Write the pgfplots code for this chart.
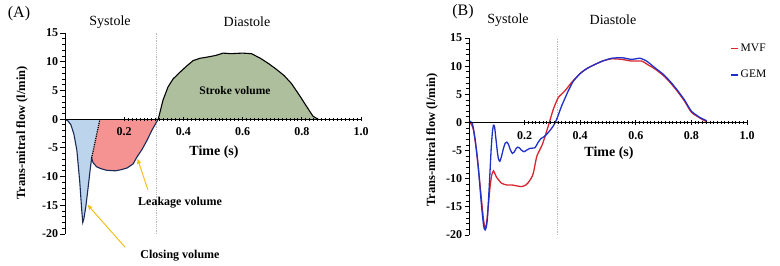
\documentclass[border=0pt]{standalone}
\usepackage{fontspec}
\setmainfont{Liberation Serif}
\usepackage{pgfplots}
\pgfplotsset{compat=1.18}
\usetikzlibrary{arrows.meta}
\definecolor{bfill}{HTML}{BCD4EC}
\definecolor{rfill}{HTML}{F59393}
\definecolor{gfill}{HTML}{ADBF9C}
\definecolor{navy}{HTML}{1A2A5A}
\definecolor{mvf}{HTML}{D7262E}
\definecolor{gem}{HTML}{1F2FC8}
\definecolor{arrowy}{HTML}{F0C020}
\pgfplotsset{
  panel/.style={
    scale only axis,
    xmin=0, xmax=1.0, ymin=-20, ymax=15,
    axis x line=middle, axis y line=left,
    axis line style={-, line width=1pt, black},
    axis on top,
    clip=false,
    xtick={0.2,0.4,0.6,0.8,1.0},
    minor x tick num=14,
    ytick={-20,-15,-10,-5,0,5,10,15},
    minor y tick num=4,
    tick style={black, line width=0.8pt},
    major tick length=4.5bp, minor tick length=3bp,
    y tick style={/pgfplots/tick align=outside},
    /pgf/number format/assume math mode=true,
    tick label style={font=\bfseries\fontsize{12bp}{14bp}\selectfont},
    yticklabel style={xshift=-1bp},
    xticklabel style={yshift=-3bp, /pgf/number format/.cd, fixed, fixed zerofill, precision=1},
  }
}
\begin{document}
\begin{tikzpicture}
\path[use as bounding box] (0,0) rectangle (780bp,266bp);
% ---------------- Panel A ----------------
\begin{axis}[panel, at={(65bp,32bp)}, anchor=south west, width=296bp, height=201bp]
\addplot[fill=bfill, draw=none] coordinates {
(0,0) (0.01,-0.3) (0.02,-1.0) (0.03,-2.6) (0.04,-5.4) (0.05,-11.0) (0.056,-15.5) (0.06,-18) (0.064,-17.3) (0.071,-15.0) (0.079,-11.5) (0.085,-8.8) (0.09,-6.8) (0.118,0)} -- cycle;
\addplot[fill=rfill, draw=none] coordinates {
(0.118,0) (0.09,-6.8) (0.095,-7.6) (0.107,-8.3) (0.12,-8.6) (0.14,-8.9) (0.17,-9.0) (0.19,-8.8) (0.21,-8.5) (0.23,-7.8) (0.243,-6.6) (0.26,-5.3) (0.277,-3.7) (0.295,-1.8) (0.315,0)} -- cycle;
\addplot[fill=gfill, draw=none] coordinates {
(0.315,0) (0.331,3.3) (0.348,5.6) (0.365,7.0) (0.389,8.2) (0.41,9.2) (0.433,10.2) (0.456,10.6) (0.48,10.8) (0.51,11.1) (0.534,11.5) (0.56,11.4) (0.6,11.5) (0.63,11.4) (0.66,10.6) (0.69,9.6) (0.716,8.6) (0.74,7.6) (0.765,6.2) (0.794,4.0) (0.815,2.3) (0.838,0.5) (0.855,0)} -- cycle;
\addplot[gray!55, densely dotted, line width=0.8pt] coordinates {(0.31,-20) (0.31,15)};
\addplot[navy, line width=1.1pt] coordinates {
(0,0) (0.01,-0.3) (0.02,-1.0) (0.03,-2.6) (0.04,-5.4) (0.05,-11.0) (0.056,-15.5) (0.06,-18) (0.064,-17.3) (0.071,-15.0) (0.079,-11.5) (0.085,-8.8) (0.09,-6.8) (0.095,-7.6) (0.107,-8.3) (0.12,-8.6) (0.14,-8.9) (0.17,-9.0) (0.19,-8.8) (0.21,-8.5) (0.23,-7.8) (0.243,-6.6) (0.26,-5.3) (0.277,-3.7) (0.295,-1.8) (0.315,0)};
\addplot[black, line width=1.1pt] coordinates {
(0.315,0) (0.331,3.3) (0.348,5.6) (0.365,7.0) (0.389,8.2) (0.41,9.2) (0.433,10.2) (0.456,10.6) (0.48,10.8) (0.51,11.1) (0.534,11.5) (0.56,11.4) (0.6,11.5) (0.63,11.4) (0.66,10.6) (0.69,9.6) (0.716,8.6) (0.74,7.6) (0.765,6.2) (0.794,4.0) (0.815,2.3) (0.838,0.5) (0.855,0)};
\addplot[black, densely dotted, line width=1.2pt] coordinates {(0.09,-6.8) (0.118,0)};
\draw[arrowy, line width=1pt, -{Triangle[length=5bp,width=4bp]}] (axis cs:0.28,-12.3) -- (axis cs:0.245,-6.9);
\draw[arrowy, line width=1pt, -{Triangle[length=5bp,width=4bp]}] (axis cs:0.203,-22.3) -- (axis cs:0.076,-14.9);
\end{axis}
% ---------------- Panel B ----------------
\begin{axis}[panel, at={(469bp,31bp)}, anchor=south west, width=278bp, height=197bp,
  legend style={draw=none, fill=none, at={(0.935,0.985)}, anchor=north west,
    font=\fontsize{11.5bp}{13bp}\selectfont, row sep=13bp, inner sep=1bp,
    nodes={inner xsep=2bp}},
  legend cell align=left,
  legend image code/.code={\draw[#1, line width=1.6pt] (0bp,0bp) -- (7bp,0bp);}]
\addplot[gray!55, densely dotted, line width=0.8pt, forget plot] coordinates {(0.317,-20) (0.317,15)};
\addplot[mvf, line width=1.3pt, smooth, tension=0.35] coordinates {
(0,0) (0.008,-0.3) (0.016,-1.3) (0.028,-5.4) (0.04,-11.3) (0.052,-17.2) (0.058,-18.8) (0.062,-18.3) (0.066,-16.6) (0.071,-14) (0.076,-11.3) (0.082,-9.3) (0.088,-8.6) (0.094,-9.2) (0.1,-9.8) (0.117,-10.8) (0.135,-11.1) (0.153,-11.1) (0.175,-11.3) (0.19,-11.4) (0.205,-11.1) (0.213,-10.7) (0.225,-9.8) (0.232,-8.9) (0.244,-6.0) (0.264,-3.9) (0.285,-0.65) (0.303,2.3) (0.321,4.4) (0.345,5.6) (0.369,7.1) (0.4,8.7) (0.425,9.6) (0.453,10.3) (0.48,10.9) (0.513,11.3) (0.55,11.2) (0.585,10.9) (0.621,10.9) (0.645,10.2) (0.669,9.5) (0.7,8.3) (0.725,7.0) (0.75,5.5) (0.775,3.8) (0.8,1.8) (0.83,0.8) (0.855,0.1)};
\addlegendentry{MVF}
\addplot[gem, line width=1.3pt, smooth, tension=0.35] coordinates {
(0,0.3) (0.012,-0.2) (0.022,-3) (0.034,-8.3) (0.045,-14.8) (0.053,-18.5) (0.058,-19.1) (0.062,-18.6) (0.066,-17.2) (0.071,-13) (0.076,-8.3) (0.08,-4.5) (0.084,-1.8) (0.088,-0.5) (0.092,-0.8) (0.097,-3) (0.102,-5.2) (0.106,-6.5) (0.111,-6.9) (0.116,-6.2) (0.124,-4.6) (0.13,-3.7) (0.136,-3.5) (0.142,-3.9) (0.149,-4.9) (0.156,-5.5) (0.162,-5.3) (0.17,-4.6) (0.175,-4.4) (0.181,-4.5) (0.188,-4.9) (0.198,-5.2) (0.208,-4.9) (0.22,-4.6) (0.237,-4.5) (0.248,-3.6) (0.258,-2.9) (0.271,-2.5) (0.285,-1.8) (0.303,-0.65) (0.315,0.5) (0.333,2.9) (0.357,5.6) (0.375,7.3) (0.4,8.7) (0.425,9.6) (0.453,10.3) (0.48,10.9) (0.513,11.4) (0.55,11.5) (0.585,11.2) (0.615,11.4) (0.639,10.9) (0.669,9.7) (0.7,8.5) (0.725,7.2) (0.75,5.7) (0.775,4.0) (0.8,2.0) (0.83,0.9) (0.855,0.3)};
\addlegendentry{GEM}
\end{axis}
% ---------------- Texts ----------------
\node[font=\fontsize{16bp}{18bp}\selectfont] at (19bp,252bp) {(A)};
\node[font=\fontsize{14bp}{16bp}\selectfont] at (110bp,244bp) {Systole};
\node[font=\fontsize{14bp}{16bp}\selectfont] at (247bp,244bp) {Diastole};
\node[font=\fontsize{16bp}{18bp}\selectfont] at (463bp,254bp) {(B)};
\node[font=\fontsize{14bp}{16bp}\selectfont] at (508bp,246bp) {Systole};
\node[font=\fontsize{14bp}{16bp}\selectfont] at (613bp,246bp) {Diastole};
\node[font=\bfseries\fontsize{14bp}{16bp}\selectfont] at (214bp,114bp) {Time (s)};
\node[font=\bfseries\fontsize{14bp}{16bp}\selectfont] at (609bp,113bp) {Time (s)};
\node[font=\bfseries\fontsize{12.5bp}{14bp}\selectfont, rotate=90] at (22bp,133bp) {Trans-mitral flow (l/min)};
\node[font=\bfseries\fontsize{12.5bp}{14bp}\selectfont, rotate=90] at (432bp,126bp) {Trans-mitral flow (l/min)};
\node[font=\bfseries\fontsize{11.5bp}{13bp}\selectfont] at (235bp,175bp) {Stroke volume};
\node[font=\bfseries\fontsize{12bp}{14bp}\selectfont] at (180bp,63bp) {Leakage volume};
\node[font=\bfseries\fontsize{12bp}{14bp}\selectfont] at (180bp,10bp) {Closing volume};
\end{tikzpicture}
\end{document}
